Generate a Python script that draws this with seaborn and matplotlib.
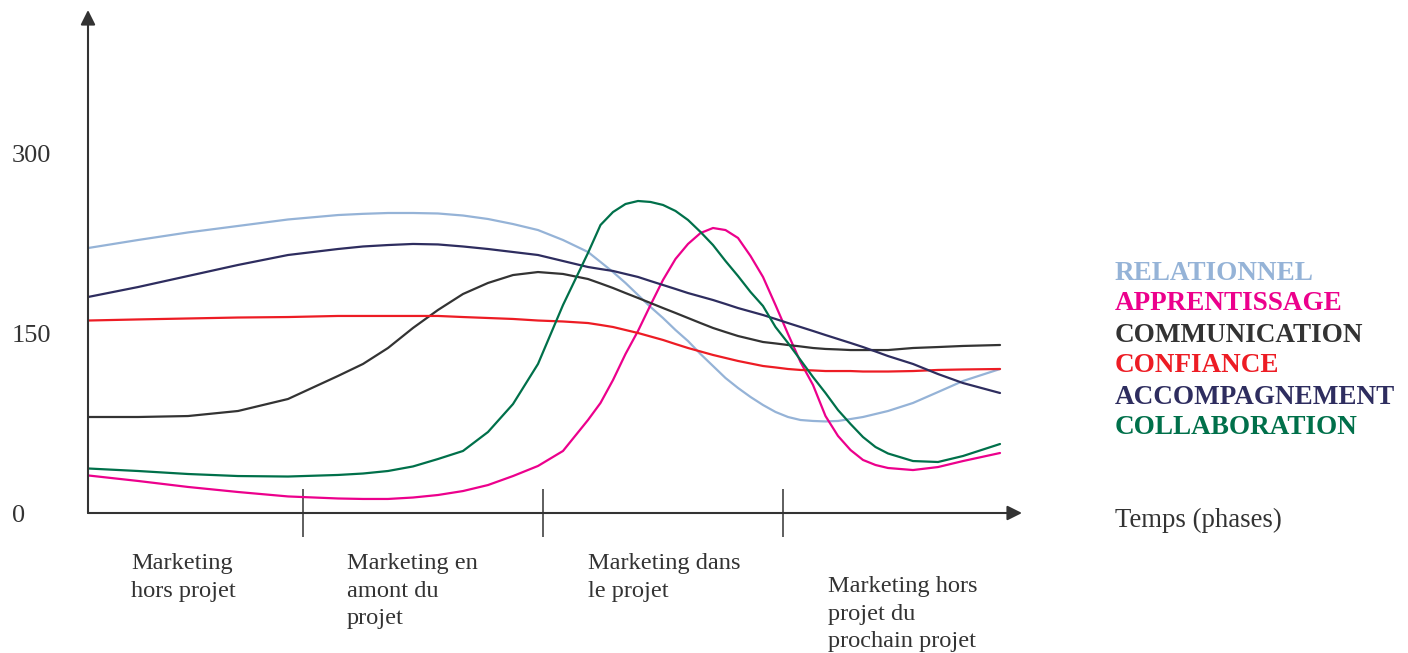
import numpy as np
import pandas as pd
import matplotlib
matplotlib.use('Agg')
import matplotlib.pyplot as plt
import seaborn as sns


### (1) Data:
## time axis (arbitrary units, one unit = one pixel of the original)
temps = [0, 50, 100, 150, 200, 250, 275, 300, 325, 350, 375, 400, 425, 450, 475, 500,
         512.5, 525, 537.5, 550, 562.5, 575, 587.5, 600, 612.5, 625, 637.5, 650, 662.5,
         675, 687.5, 700, 712.5, 725, 737.5, 750, 762.5, 775, 787.5, 800, 825, 850, 875, 912]

relationnel = [220.8, 227.5, 233.8, 239.2, 244.6, 248.3, 249.3, 250.0, 250.0, 249.6, 247.9,
               245.0, 240.8, 235.8, 227.5, 217.5, 209.2, 200.8, 191.7, 181.7, 171.7, 162.5,
               152.5, 143.3, 132.5, 122.5, 112.5, 104.2, 96.7, 90.0, 84.2, 80.0, 77.5,
               76.7, 76.3, 76.7, 78.3, 80.0, 82.5, 85.0, 91.7, 100.8, 110.0, 120.0]
apprentissage = [31.3, 26.7, 21.7, 17.5, 13.8, 12.1, 11.7, 11.7, 12.9, 15.0, 18.3,
                 23.3, 30.8, 39.2, 51.7, 77.5, 91.7, 110.8, 132.5, 151.7, 173.3, 194.2,
                 211.7, 224.2, 233.3, 237.5, 235.8, 229.2, 214.2, 196.7, 173.3, 149.2,
                 125.8, 106.7, 80.8, 64.2, 52.5, 44.2, 40.0, 37.5, 35.8, 38.3, 43.3, 50.0]
communication = [80.0, 80.0, 80.8, 85.0, 95.0, 114.2, 124.2, 137.5, 154.2, 169.2, 182.5,
                 191.7, 198.3, 200.8, 199.2, 195.0, 191.3, 187.5, 183.3, 179.2, 175.0, 170.8,
                 166.7, 162.5, 158.3, 154.2, 150.8, 147.5, 145.0, 142.5, 141.3, 140.0,
                 138.8, 137.5, 136.7, 136.3, 135.8, 135.8, 135.8, 135.8, 137.5, 138.3,
                 139.2, 140.0]
confiance = [160.4, 161.3, 162.1, 162.9, 163.3, 164.2, 164.2, 164.2, 164.2, 164.2, 163.3,
             162.5, 161.7, 160.4, 159.6, 158.3, 156.7, 155.0, 152.5, 150.0, 147.1, 144.2,
             140.8, 137.5, 134.6, 131.7, 129.2, 126.7, 124.6, 122.5, 121.3, 120.0, 119.2,
             118.8, 118.3, 118.3, 118.3, 117.9, 117.9, 117.9, 118.3, 119.2, 119.6, 120.0]
accompagnement = [180.0, 188.3, 197.5, 206.7, 215.0, 220.0, 222.1, 223.3, 224.2, 223.8, 222.1,
                  220.0, 217.5, 215.0, 210.0, 205.0, 203.3, 201.7, 199.2, 196.7, 193.3, 190.0,
                  186.7, 183.3, 180.4, 177.5, 174.2, 170.8, 167.9, 165.0, 161.7, 158.3,
                  155.0, 151.7, 148.3, 145.0, 141.7, 138.3, 134.6, 130.8, 124.2, 115.8,
                  108.3, 100.0]
collaboration = [37.1, 35.0, 32.5, 30.8, 30.4, 31.7, 32.9, 35.0, 38.8, 45.0, 51.7,
                 67.5, 90.8, 124.2, 173.3, 216.7, 240.0, 250.8, 257.5, 260.0, 259.2, 256.7,
                 251.7, 244.2, 234.2, 223.3, 210.0, 197.5, 184.2, 172.5, 155.0, 141.7,
                 127.5, 113.3, 100.0, 85.8, 74.2, 63.3, 55.0, 49.6, 43.3, 42.5, 47.5, 57.5]

dimensions = ['RELATIONNEL', 'APPRENTISSAGE', 'COMMUNICATION', 'CONFIANCE',
              'ACCOMPAGNEMENT', 'COLLABORATION']
couleurs = ['#95b3d7', '#ec008c', '#333333', '#ed1c24', '#2e2d5f', '#00704a']

phase_bounds = [215, 455, 695]
phase_starts = [43, 259, 500, 740]
phase_labels = ['Marketing\nhors projet', 'Marketing en\namont du\nprojet',
                'Marketing dans\nle projet', 'Marketing hors\nprojet du\nprochain projet']
phase_y = [-0.08, -0.08, -0.08, -0.126]

y_ticks = [0, 150, 300]


## build long table for seaborn
df = pd.DataFrame({
    'temps': temps * 6,
    'valeur': relationnel + apprentissage + communication + confiance + accompagnement + collaboration,
    'dimension': np.repeat(dimensions, len(temps)),
})


### (2) Plot:
sns.set_style('white')
plt.rcParams['font.family'] = ['Liberation Serif', 'DejaVu Serif']

fig = plt.figure(figsize=(14.08, 6.53), dpi=100)
ax = fig.add_axes([88 / 1408, 140 / 653, 934 / 1408, 503 / 653])

sns.lineplot(data=df, x='temps', y='valeur', hue='dimension', hue_order=dimensions,
             palette=couleurs, linewidth=1.6, errorbar=None, legend=False, ax=ax)

ax.set_xlim(0, 934)
ax.set_ylim(0, 503 / 1.2)
ax.set_xlabel('')
ax.set_ylabel('')

# axes drawn as arrows
for s in ax.spines.values():
    s.set_visible(False)
axis_col = '#333333'
ax.annotate('', xy=(1, 0), xytext=(0, 0), xycoords='axes fraction',
            arrowprops=dict(arrowstyle='-|>', color=axis_col, lw=1.5,
                            mutation_scale=22, shrinkA=0, shrinkB=0))
ax.annotate('', xy=(0, 1), xytext=(0, 0), xycoords='axes fraction',
            arrowprops=dict(arrowstyle='-|>', color=axis_col, lw=1.5,
                            mutation_scale=22, shrinkA=0, shrinkB=0))

# phase boundaries as ticks
ax.set_xticks(phase_bounds)
ax.set_xticklabels([])
ax.tick_params(axis='x', direction='inout', length=34, width=1.1, color=axis_col, bottom=True)

ax.set_yticks(y_ticks)
ax.set_yticklabels([str(v) for v in y_ticks])
ax.tick_params(axis='y', length=0, pad=55, labelsize=19, labelcolor='#333333')
for lab in ax.get_yticklabels():
    lab.set_horizontalalignment('left')

# phase labels under the axis
for xs, txt, yy in zip(phase_starts, phase_labels, phase_y):
    ax.text(xs, yy, txt, transform=ax.get_xaxis_transform(),
            ha='left', va='top', fontsize=17.6, color='#333333', linespacing=1.4)

# coloured legend text on the right
for i, (name, col) in enumerate(zip(dimensions, couleurs)):
    fig.text(1115 / 1408, 1 - (273 + 31 * i) / 653, name, color=col, fontsize=19.5,
             fontweight='bold', ha='left', va='center')

fig.text(1115 / 1408, 1 - 520 / 653, 'Temps (phases)', color='#333333', fontsize=19.3,
         ha='left', va='center')

plt.savefig('out.png', dpi=100)
